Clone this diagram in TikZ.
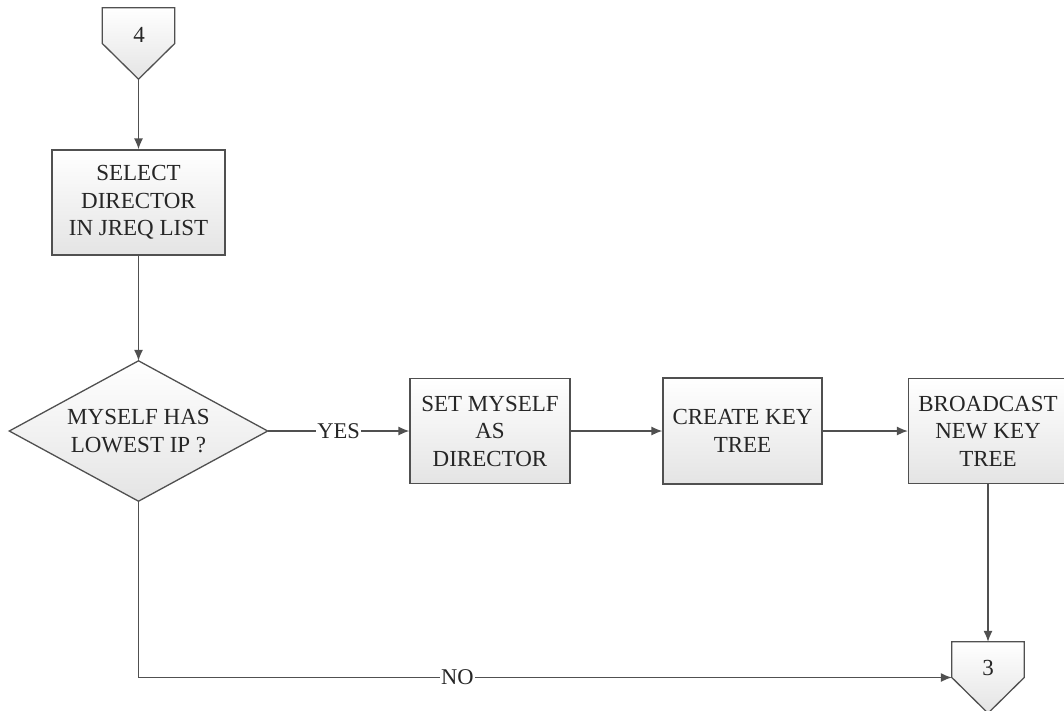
\documentclass[tikz,border=0pt]{standalone}
\usepackage{fontspec}
\setmainfont{Liberation Serif}
\usetikzlibrary{arrows.meta}
\definecolor{edge}{HTML}{505050}
\definecolor{shadeend}{HTML}{E4E4E4}
\tikzset{
  boxfill/.style={top color=white, bottom color=shadeend},
  txt/.style={font=\fontsize{23}{27.5}\selectfont, text=black!85},
  stepbox/.style={draw=edge, line width=1.3pt, boxfill, align=center,
    inner sep=0pt, txt},
  frame/.style={draw=none, inner sep=0pt, align=center, txt},
  outline/.style={draw=edge, line width=1.3pt, boxfill},
  flow/.style={draw=edge, line width=1.3pt, -{Latex[length=11pt,width=9pt]}},
  tag/.style={fill=white, inner sep=1.5pt, font=\fontsize{22.5}{26}\selectfont, text=black!85}
}
\begin{document}
\begin{tikzpicture}[x=1pt, y=-1pt]
  \useasboundingbox (0,0) rectangle (1064,710);
  \clip (0,0) rectangle (1064,710);

  % off-page connector 4 (pentagon drawn on the node's anchors)
  \node[frame, minimum width=72pt, minimum height=71pt] (c4) at (138.5,43.5) {};
  \path[outline] (c4.north west) -- (c4.north east) -- (c4.east) -- (c4.south) -- (c4.west) -- cycle;
  \node[frame] (n4) at (139,34.5) {4};

  % process boxes
  \node[stepbox, minimum width=173pt, minimum height=105pt] (sel) at (138.5,202.5)
    {SELECT\\DIRECTOR\\IN JREQ LIST};

  % decision diamond
  \node[frame, minimum width=258pt, minimum height=140pt] (dia) at (138.5,431) {};
  \path[outline] (dia.north) -- (dia.east) -- (dia.south) -- (dia.west) -- cycle;
  \node[frame] (q) at (dia.center) {MYSELF HAS\\LOWEST IP ?};

  \node[stepbox, minimum width=160pt, minimum height=105pt] (set) at (490,431)
    {SET MYSELF\\AS\\DIRECTOR};
  \node[stepbox, minimum width=159pt, minimum height=106pt] (key) at (742.5,431)
    {CREATE KEY\\TREE};
  \node[stepbox, minimum width=159pt, minimum height=105pt] (bc) at (988,431)
    {BROADCAST\\NEW KEY\\TREE};

  % off-page connector 3
  \node[frame, minimum width=72pt, minimum height=71pt] (c3) at (988,677.5) {};
  \path[outline] (c3.north west) -- (c3.north east) -- (c3.east) -- (c3.south) -- (c3.west) -- cycle;
  \node[frame] (n3) at (988,668) {3};

  % connectors
  \draw[flow] (c4.south) -- (sel.north);
  \draw[flow] (sel.south) -- (dia.north);
  \draw[flow] (dia.east) -- node[tag] {YES} (set.west);
  \draw[flow] (set.east) -- (key.west);
  \draw[flow] (key.east) -- (bc.west);
  \draw[flow] (bc.south) -- (c3.north);
  \draw[flow] (dia.south) |- node[tag, pos=0.696] {NO} (c3.west);
\end{tikzpicture}
\end{document}
